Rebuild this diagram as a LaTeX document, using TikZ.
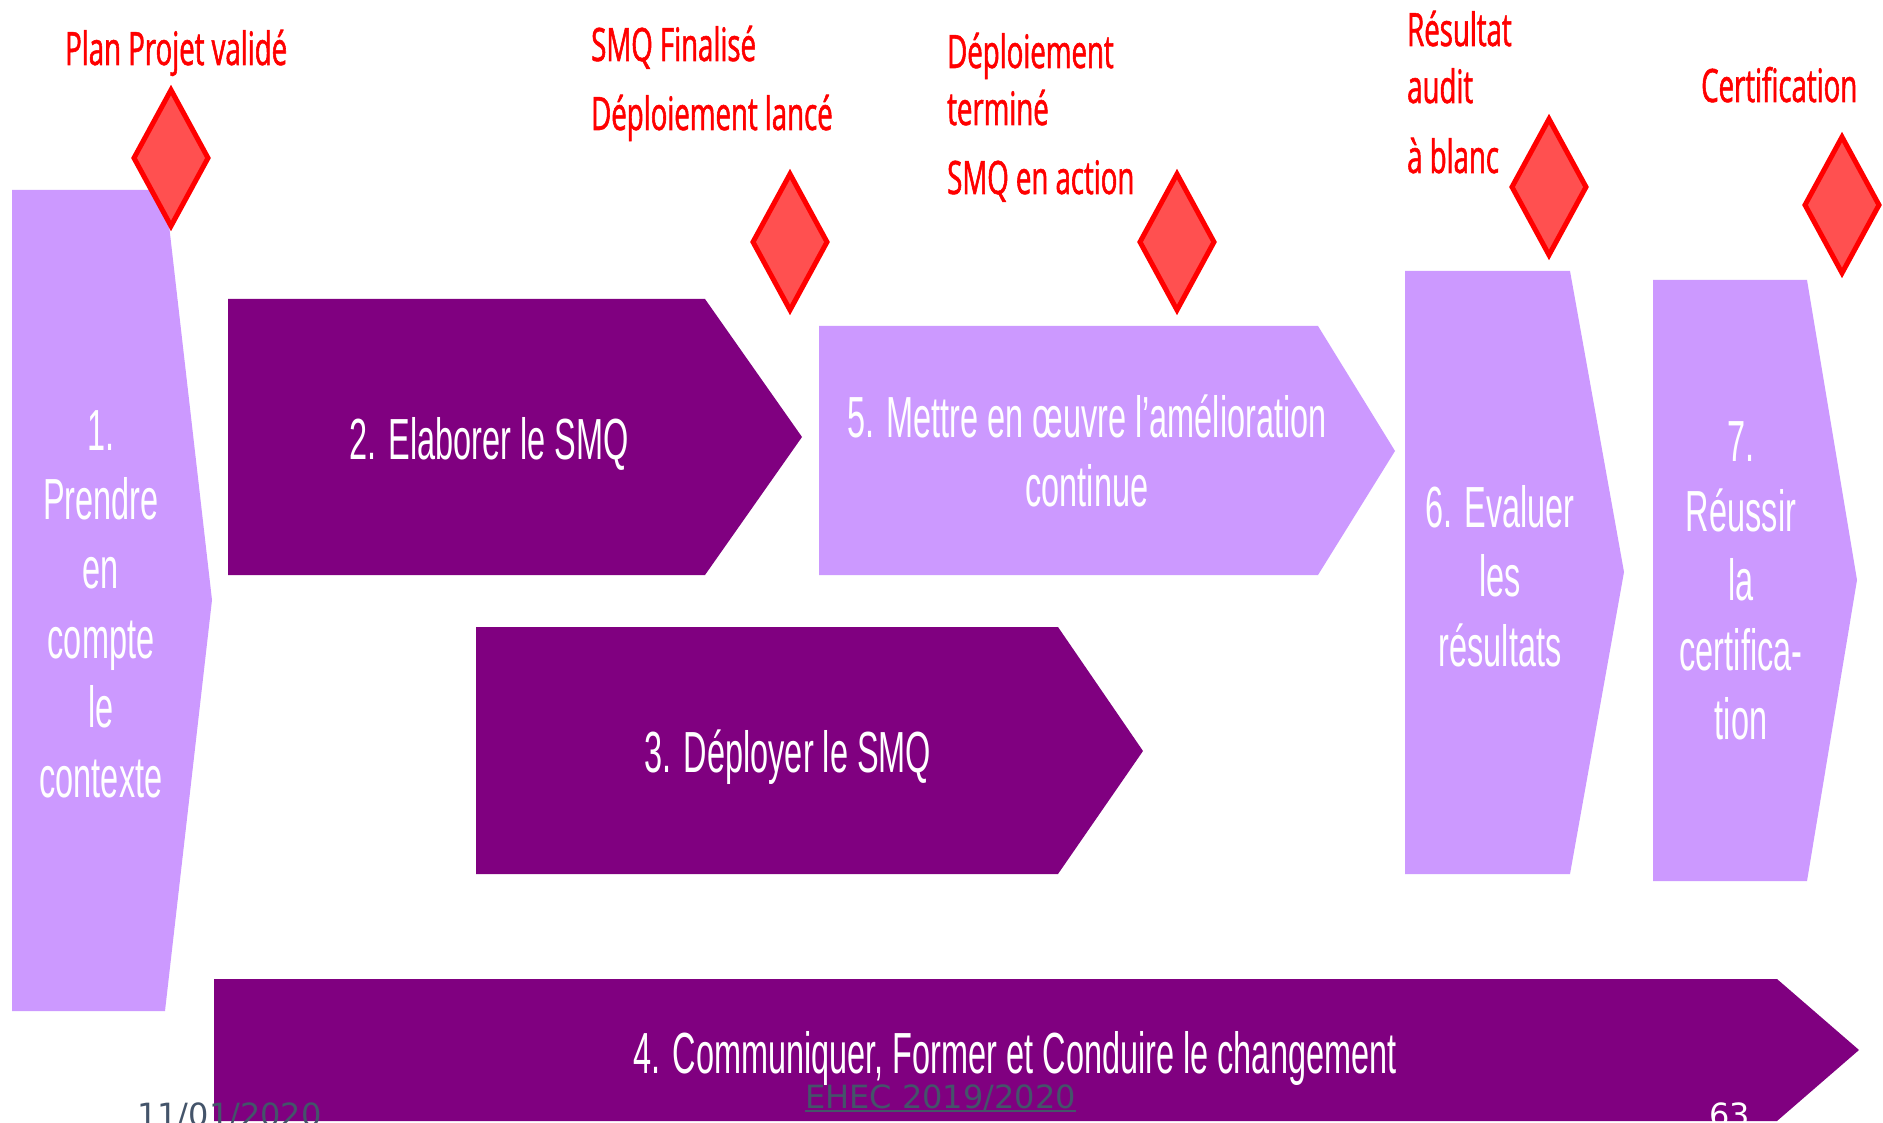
\documentclass[tikz,border=0pt]{standalone}
\usepackage{fontspec}
\newfontfamily\wfont[FakeStretch=0.56]{Liberation Sans}
\newfontfamily\rfont[FakeStretch=0.6,FakeBold=1.2]{Open Sans}
\newfontfamily\ffont{DejaVu Sans}
\definecolor{lightp}{RGB}{204,153,255}
\definecolor{darkp}{RGB}{128,0,128}
\definecolor{msfill}{RGB}{255,80,80}
\definecolor{footc}{RGB}{68,84,106}
\begin{document}
\begin{tikzpicture}[x=1pt,y=-1pt,
  light/.style={fill=lightp},
  dark/.style={fill=darkp},
  mstone/.style={fill=msfill, draw=red, line width=5pt, line join=miter, miter limit=10},
  wtext/.style={text=white, font=\wfont\fontsize{58}{69.4}\selectfont, align=center, inner sep=0pt},
  rlab/.style={text=red, font=\rfont\fontsize{46}{55}\selectfont, anchor=base west, inner sep=0pt},
  foot/.style={font=\ffont\fontsize{32}{38}\selectfont, anchor=base west, inner sep=0pt}]
\useasboundingbox (0,0) rectangle (1883,1123);
\clip (0,0) rectangle (1883,1123);
\fill[white] (0,0) rectangle (1883,1123);

% process shapes
\fill[light] (12,190) -- (165,190) -- (212,600) -- (165,1011) -- (12,1011) -- cycle;
\fill[dark] (228,299) -- (705,299) -- (802,437) -- (705,575) -- (228,575) -- cycle;
\fill[light] (819,326) -- (1318,326) -- (1395,451) -- (1318,575) -- (819,575) -- cycle;
\fill[dark] (476,627) -- (1058,627) -- (1143,751) -- (1058,874) -- (476,874) -- cycle;
\fill[light] (1405,271) -- (1570,271) -- (1624,572) -- (1570,874) -- (1405,874) -- cycle;
\fill[light] (1653,280) -- (1807,280) -- (1857,580) -- (1807,881) -- (1653,881) -- cycle;
\fill[dark] (214,979) -- (1777,979) -- (1859,1050) -- (1777,1121) -- (214,1121) -- cycle;

% texts in shapes
\node[wtext] (t1) at (101,604) {1.\\Prendre\\en\\compte\\le\\contexte};
\node[wtext, anchor=base] (t2) at (489,459) {2. Elaborer le SMQ};
\node[wtext, anchor=base] (t3) at (788,772) {3. Déployer le SMQ};
\node[wtext] (t5) at (1087,451) {5. Mettre en œuvre l’amélioration\\continue};
\node[wtext] (t6) at (1500,576) {6. Evaluer\\les\\résultats};
\node[wtext] (t7) at (1741,581) {7.\\Réussir\\la\\certifica-\\tion};
\node[wtext, anchor=base] (t4) at (1015,1073) {4. Communiquer, Former et Conduire le changement};

% milestones
\coordinate (d1) at (171,158);
\coordinate (d2) at (790,242);
\coordinate (d3) at (1177,242);
\coordinate (d4) at (1549,187);
\coordinate (d5) at (1842,205);
\foreach \d in {d1,d2,d3,d4,d5}
  \draw[mstone] (\d) ++(0,-68) -- ++(37,68) -- ++(-37,68) -- ++(-37,-68) -- cycle;

% milestone labels
\node[rlab] (l1) at (65,65) {Plan Projet validé};
\node[rlab] (l2a) at (591,61) {SMQ Finalisé};
\node[rlab] (l2b) at (591,130) {Déploiement lancé};
\node[rlab] (l3a) at (947,68) {Déploiement};
\node[rlab] (l3b) at (947,125) {terminé};
\node[rlab] (l3c) at (947,194) {SMQ en action};
\node[rlab] (l4a) at (1407,46) {Résultat};
\node[rlab] (l4b) at (1407,103) {audit};
\node[rlab] (l4c) at (1407,173) {à blanc};
\node[rlab] (l5) at (1701,102) {Certification};

% footer
\node[foot, text=footc] (date) at (137,1126) {11/01/2020};
\node[foot, text=footc] (eh) at (805,1108) {EHEC 2019/2020};
\draw[footc, line width=2pt] ([yshift=-3pt]eh.base west) -- ([yshift=-3pt]eh.base east);
\node[foot, text=white] (pg) at (1709,1126) {63};
\end{tikzpicture}
\end{document}
